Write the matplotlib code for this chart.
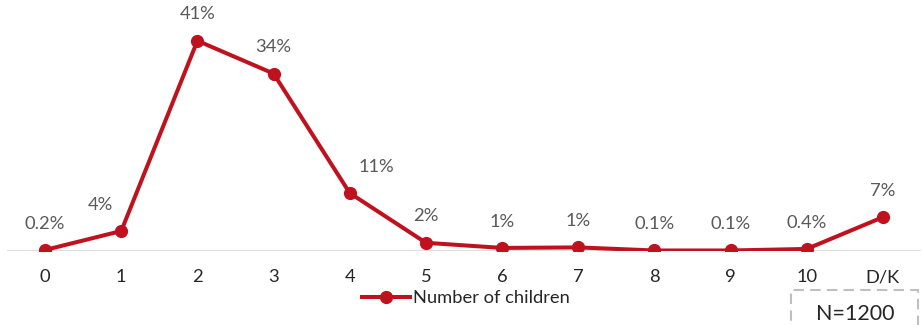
import matplotlib
matplotlib.use("Agg")
import matplotlib.pyplot as plt
from matplotlib.patches import Rectangle

categories = ["0", "1", "2", "3", "4", "5", "6", "7", "8", "9", "10", "D/K"]
values = [0.2, 3.9, 41.0, 34.6, 11.3, 1.6, 0.6, 0.7, 0.1, 0.1, 0.4, 6.6]
labels = ["0.2%", "4%", "41%", "34%", "11%", "2%", "1%", "1%", "0.1%", "0.1%", "0.4%", "7%"]
series_name = "Number of children"
note = "N=1200"

plt.rcParams['font.family'] = ['Lato', 'DejaVu Sans']

W, H = 922, 325
fig = plt.figure(figsize=(W / 100, H / 100), dpi=100)
ax = fig.add_axes([7 / W, (H - 251) / H, (921 - 7) / W, (251 - 10) / H])

red = "#C0111F"
x = list(range(len(categories)))
line, = ax.plot(x, values, color=red, lw=2.9, marker="o", ms=8.5,
                markerfacecolor=red, markeredgecolor=red, label=series_name,
                solid_joinstyle="miter", zorder=3)

ax.set_xlim(-0.5, len(categories) - 0.5)
ax.set_ylim(0, 47)
ax.axhline(0, color="#D9D9D9", lw=1.2, zorder=1)

for s in ax.spines.values():
    s.set_visible(False)
ax.set_yticks([])
ax.set_xticks(x)
ax.set_xticklabels(categories, fontsize=13.2, color="#262626")
ax.tick_params(axis="x", length=0, pad=13)

dx = [0, -21, 0, 0, 27, 0, 0, 0, 0, 0, 0, 0]
for i, (v, lab) in enumerate(zip(values, labels)):
    ax.annotate(lab, (i, v), xytext=(dx[i] * 0.72, 19), textcoords="offset points",
                ha="center", va="center", fontsize=13.2, color="#595959")

leg = fig.legend(handles=[line], loc="center", bbox_to_anchor=(466 / W, 1 - 298 / H),
                 frameon=False, fontsize=13.2, handlelength=2.6, handletextpad=0.2,
                 borderpad=0, labelcolor="#262626")

fig.patches.append(Rectangle((791 / W, 0 - 0.02), (918 - 791) / W, (H - 290) / H + 0.02,
                             transform=fig.transFigure, fill=False,
                             edgecolor="#BFBFBF", lw=1.5, ls=(0, (5, 3))))
fig.text(855 / W, 1 - 314 / H, note, ha="center", va="center", fontsize=15.5,
         color="#262626")

fig.savefig("out.png", dpi=100)
